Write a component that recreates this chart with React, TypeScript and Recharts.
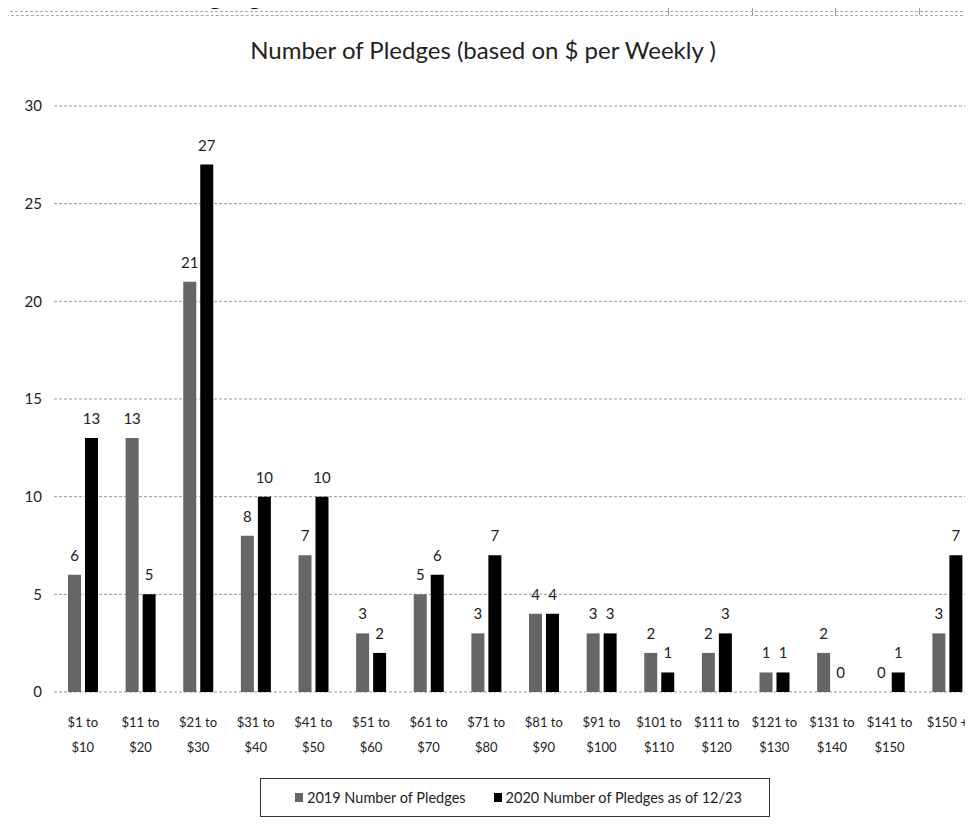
import React from 'react';
import { BarChart, Bar, XAxis, YAxis, CartesianGrid, LabelList } from 'recharts';

const categories = [
  '$1 to $10', '$11 to $20', '$21 to $30', '$31 to $40', '$41 to $50', '$51 to $60',
  '$61 to $70', '$71 to $80', '$81 to $90', '$91 to $100', '$101 to $110', '$111 to $120',
  '$121 to $130', '$131 to $140', '$141 to $150', '$150 +',
];
const pledges2019 = [6, 13, 21, 8, 7, 3, 5, 3, 4, 3, 2, 2, 1, 2, 0, 3];
const pledges2020 = [13, 5, 27, 10, 10, 2, 6, 7, 4, 3, 1, 3, 1, 0, 1, 7];
const yTicks = [0, 5, 10, 15, 20, 25, 30];
const series2019Name = '2019 Number of Pledges';
const series2020Name = '2020 Number of Pledges as of 12/23';
const chartTitle = 'Number of Pledges (based on $ per Weekly )';
const headerText = 'Pledging Data';
const sheetColumnLines = [668, 752, 835, 919];

const data = categories.map((c, i) => ({ cat: c, y2019: pledges2019[i], y2020: pledges2020[i] }));

const FONT = 'Lato, "Open Sans", sans-serif';
const GRAY = '#666666';

const XTick = (props: any) => {
  const { x, y, payload } = props;
  const v: string = payload.value;
  const idx = v.indexOf(' to ');
  const l1 = idx >= 0 ? v.slice(0, idx + 3) : v;
  const l2 = idx >= 0 ? v.slice(idx + 4) : '';
  return (
    <g>
      <text x={x} y={y + 27} textAnchor="middle" fontSize={13} fontFamily={FONT} fill="#222">{l1}</text>
      {l2 && <text x={x} y={y + 52} textAnchor="middle" fontSize={13} fontFamily={FONT} fill="#222">{l2}</text>}
    </g>
  );
};

const labelStyle = { fontSize: 15, fontFamily: FONT, fill: '#222' };

export default function App() {
  return (
    <div style={{ position: 'relative', width: 973, height: 830, margin: -8, overflow: 'hidden', background: '#fff' }}>
      <div style={{ position: 'absolute', left: 150, top: -26, fontFamily: FONT, fontSize: 30, lineHeight: '36px', color: '#111', whiteSpace: 'nowrap' }}>{headerText}</div>
      <div style={{ position: 'absolute', left: 0, top: 11, width: 973, borderTop: '1px dashed #aaa' }} />
      <div style={{ position: 'absolute', left: 6, top: 15, width: 967, borderTop: '1px dashed #aaa' }} />
      <div style={{ position: 'absolute', left: 6, top: 15, height: 815, borderLeft: '1px dashed #aaa' }} />
      {sheetColumnLines.map((lx) => (
        <div key={lx} style={{ position: 'absolute', left: lx, top: 0, height: 15, borderLeft: '1px solid #999' }} />
      ))}
      <div style={{ position: 'absolute', left: 0, top: 35, width: 966, textAlign: 'center', fontFamily: FONT, fontSize: 24, color: '#222' }}>{chartTitle}</div>
      <div style={{ position: 'absolute', left: 0, top: 0 }}>
        <BarChart width={990} height={830} data={data} margin={{ top: 106, right: 14, bottom: 108, left: 0 }} barSize={13} barGap={4}>
          <CartesianGrid vertical={false} stroke="#9a9a9a" strokeDasharray="3 2" />
          <XAxis dataKey="cat" axisLine={false} tickLine={false} interval={0} tick={<XTick />} />
          <YAxis width={54} domain={[0, 30]} ticks={yTicks} axisLine={false} tickLine={false} tickMargin={6}
            tick={{ fontSize: 15, fontFamily: FONT, fill: '#222' }} />
          <Bar dataKey="y2019" name={series2019Name} fill={GRAY} minPointSize={0.01} isAnimationActive={false}>
            <LabelList dataKey="y2019" position="top" offset={14} style={labelStyle} />
          </Bar>
          <Bar dataKey="y2020" name={series2020Name} fill="#000" minPointSize={0.01} isAnimationActive={false}>
            <LabelList dataKey="y2020" position="top" offset={14} style={labelStyle} />
          </Bar>
        </BarChart>
      </div>
      <div style={{ position: 'absolute', left: 260, top: 778, width: 510, height: 39, border: '1.5px solid #333', display: 'flex', alignItems: 'center', fontFamily: FONT, fontSize: 14.5, color: '#222', boxSizing: 'border-box' }}>
        <span style={{ display: 'inline-block', width: 8, height: 9, background: GRAY, marginLeft: 34, marginRight: 4 }} />
        <span>{series2019Name}</span>
        <span style={{ display: 'inline-block', width: 8, height: 9, background: '#000', marginLeft: 28, marginRight: 4 }} />
        <span>{series2020Name}</span>
      </div>
    </div>
  );
}
